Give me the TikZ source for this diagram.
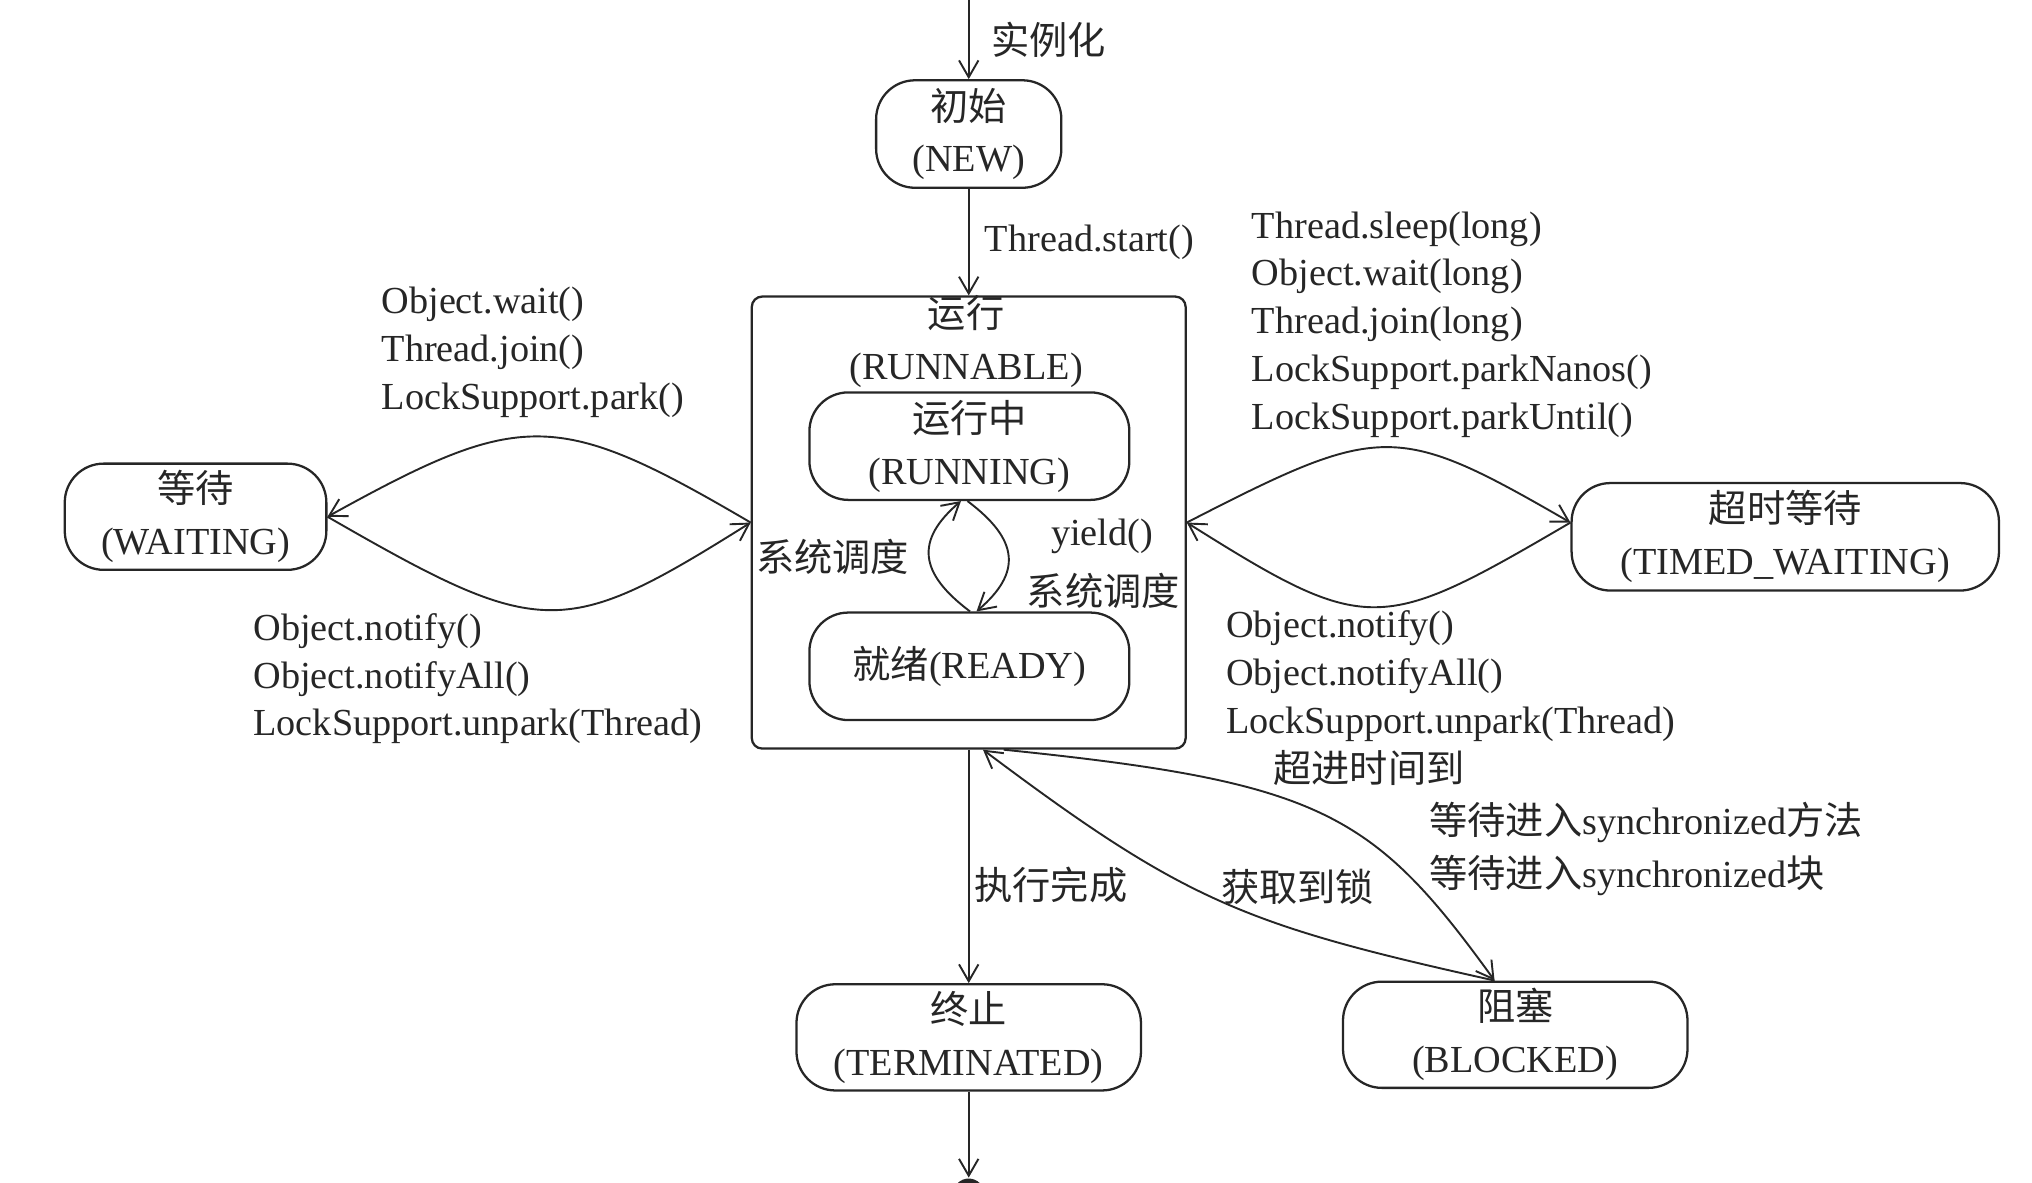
\documentclass[tikz,border=0pt]{standalone}
\usepackage{fontspec}
\setmainfont{Liberation Serif}
\newfontfamily\zhfont{Noto Sans CJK SC}
\newcommand{\zh}[1]{{\zhfont #1}}
\usepackage{xcolor}
\usetikzlibrary{arrows.meta, positioning}
\definecolor{ink}{HTML}{262626}
\tikzset{
    >={Straight Barb[length=1.3mm,width=1.5mm]}, % open arrow heads
    every node/.style={font=\fontsize{8.4}{10.5}\selectfont, text=ink},
    statebox/.style={draw=ink, line width=0.5pt, rounded corners=3mm, align=center,
        inner ysep=0pt, minimum height=0.83cm, font=\fontsize{8.4}{11.4}\selectfont}, % the states
    note/.style={align=left, inner sep=0pt, anchor=west}, % method lists
}
\tikzstyle{arrow} = [draw=ink, line width=0.42pt, ->]

\begin{document}
\begin{tikzpicture}
    \useasboundingbox (0,0) rectangle (15.69,-9.13);

    % states
    \coordinate (init) at (7.48,0);
    \node[statebox, minimum width=1.43cm] (new) at (7.48,-1.035) {\zh{初始}\\(NEW)};
    \node[draw=ink, line width=0.5pt, rounded corners=0.8mm, minimum width=3.35cm, minimum height=3.49cm] (runnable) at (7.48,-4.035) {};
    \node[align=center, inner ysep=0pt, font=\fontsize{8.4}{11.4}\selectfont] (runlabel) at (7.46,-2.64) {\zh{运行}\\(RUNNABLE)};
    \node[statebox, minimum width=2.47cm] (running) at (7.485,-3.445) {\zh{运行中}\\(RUNNING)};
    \node[statebox, minimum width=2.47cm] (ready) at (7.485,-5.145) {\zh{就绪}(READY)};
    \node[statebox, minimum width=2.02cm, minimum height=0.82cm] (waiting) at (1.51,-3.99) {\zh{等待}\\(WAITING)};
    \node[statebox, minimum width=3.30cm] (timed) at (13.785,-4.145) {\zh{超时等待}\\(TIMED\_WAITING)};
    \node[statebox, minimum width=2.66cm, minimum height=0.82cm] (terminated) at (7.48,-8.01) {\zh{终止}\\(TERMINATED)};
    \node[statebox, minimum width=2.66cm, minimum height=0.82cm] (blocked) at (11.70,-7.99) {\zh{阻塞}\\(BLOCKED)};
    \node[circle, fill=ink, minimum size=2.4mm, inner sep=0pt] (final) at (7.48,-9.22) {};

    % straight transitions
    \draw[arrow] (init) -- node[right, xshift=0.5mm] {\zh{实例化}} (new);
    \draw[arrow] (new) -- node[right] {Thread.start()} (runnable);
    \draw[arrow] (runnable) -- node[right, pos=0.58, xshift=-0.8mm] {\zh{执行完成}} (terminated);
    \draw[arrow] (terminated) -- (final);

    % running <-> ready
    \draw[arrow] ([xshift=0.05mm]ready.north) .. controls +(-0.4,0.3) and +(-0.35,-0.3) .. ([xshift=-0.65mm]running.south);
    \draw[arrow] ([xshift=-0.15mm]running.south) .. controls +(0.4,-0.3) and +(0.35,0.3) .. ([xshift=0.55mm]ready.north);
    \node (schedleft) at (6.43,-4.30) {\zh{系统调度}};
    \node (yield) at (8.51,-4.14) {yield()};
    \node (schedright) at (8.52,-4.56) {\zh{系统调度}};

    % runnable <-> waiting
    \draw[arrow] (runnable.west) .. controls +(-1.5,0.88) and +(1.5,0.83) .. (waiting.east);
    \draw[arrow] (waiting.east) .. controls +(1.65,-0.95) and +(-1.45,-0.91) .. (runnable.west);
    \node[note] (waitcalls) at (2.94,-2.72) {Object.wait()\\Thread.join()\\LockSupport.park()};
    \node[note] (wakeleft) at (1.95,-5.24) {Object.notify()\\Object.notifyAll()\\LockSupport.unpark(Thread)};

    % runnable <-> timed waiting
    \draw[arrow] (runnable.east) .. controls +(1.5,0.77) and +(-1.35,0.78) .. ([yshift=1.1mm]timed.west);
    \draw[arrow] ([yshift=1.1mm]timed.west) .. controls +(-1.47,-0.86) and +(1.4,-0.88) .. (runnable.east);
    \node[note] (timedcalls) at (9.66,-2.505) {Thread.sleep(long)\\Object.wait(long)\\Thread.join(long)\\LockSupport.parkNanos()\\LockSupport.parkUntil()};
    \node[note] (wakeright) at (9.46,-5.22) {Object.notify()\\Object.notifyAll()\\LockSupport.unpark(Thread)};

    % runnable <-> blocked
    \draw[arrow] ([xshift=-1.6mm]blocked.north) .. controls +(-1.94,0.43) and +(1.56,-1.17) .. ([xshift=1.1mm]runnable.south);
    \draw[arrow] ([xshift=2.7mm]runnable.south) .. controls +(2.45,-0.25) and +(-0.94,1.30) .. ([xshift=-1.6mm]blocked.north);
    \node (timeout) at (10.57,-5.93) {\zh{超进时间到}};
    \node[note, font=\fontsize{8.4}{11.7}\selectfont] (syncwait) at (11.03,-6.555) {\zh{等待进入}synchronized\zh{方法}\\\zh{等待进入}synchronized\zh{块}};
    \node (lockgot) at (10.02,-6.85) {\zh{获取到锁}};
\end{tikzpicture}
\end{document}
